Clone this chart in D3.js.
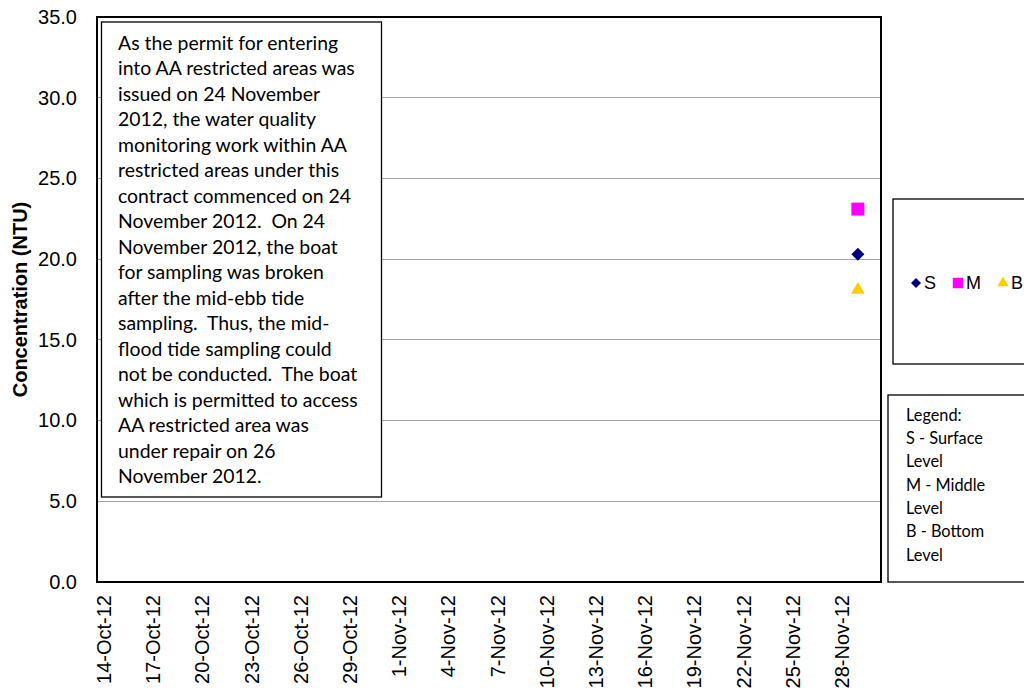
<!DOCTYPE html>
<html>
<head>
<meta charset="utf-8">
<script src="https://cdn.jsdelivr.net/npm/d3@7"></script>
<style>
html,body{margin:0;padding:0;background:#fff;overflow:hidden;}
svg{display:block;}
text{white-space:pre;}
</style>
</head>
<body>
<svg id="chart" width="1024" height="698"></svg>
<script>
// ---------- data ----------
const tickDates = ["14-Oct-12","17-Oct-12","20-Oct-12","23-Oct-12","26-Oct-12","29-Oct-12","1-Nov-12","4-Nov-12","7-Nov-12","10-Nov-12","13-Nov-12","16-Nov-12","19-Nov-12","22-Nov-12","25-Nov-12","28-Nov-12"];
const yTicks = [0,5,10,15,20,25,30,35];
const sampleDates = ["29-Nov-12"];
const surfaceValues = [20.3];
const middleValues = [23.1];
const bottomValues = [18.1];
const seriesNames = ["S","M","B"];
const seriesColors = ["#000080","#FF00FF","#FFCC00"];
const noteLines = [
 "As the permit for entering",
 "into AA restricted areas was",
 "issued on 24 November",
 "2012, the water quality",
 "monitoring work within AA",
 "restricted areas under this",
 "contract commenced on 24",
 "November 2012.  On 24",
 "November 2012, the boat",
 "for sampling was broken",
 "after the mid-ebb tide",
 "sampling.  Thus, the mid-",
 "flood tide sampling could",
 "not be conducted.  The boat",
 "which is permitted to access",
 "AA restricted area was",
 "under repair on 26",
 "November 2012."
];
const legendNoteLines = ["Legend:","S - Surface","Level","M - Middle","Level","B - Bottom","Level"];
const yTitle = "Concentration (NTU)";

// ---------- setup ----------
const parse = d3.timeParse("%d-%b-%y");
const fmt = d3.timeFormat("%-d-%b-%y");
const svg = d3.select("#chart");
const L = 97, R = 881, T = 17, B = 582;
const DAY = 864e5;
const x = d3.scaleTime()
  .domain([new Date(+parse(tickDates[0]) - 0.4*DAY), new Date(+parse(tickDates[tickDates.length-1]) + 2.41*DAY)])
  .range([L, R]);
const y = d3.scaleLinear().domain([0,35]).range([B, T]);

// gridlines
svg.append("g").selectAll("line").data(yTicks.filter(v => v>0 && v<35)).join("line")
  .attr("x1", L).attr("x2", R).attr("y1", d=>y(d)).attr("y2", d=>y(d))
  .attr("stroke", "#a6a6a6").attr("stroke-width", 1).attr("shape-rendering","crispEdges");

// y axis
const yAxis = d3.axisLeft(y).tickValues(yTicks).tickFormat(d3.format(".1f")).tickSize(0).tickPadding(20);
const gy = svg.append("g").attr("transform", `translate(${L},0)`).call(yAxis);
gy.select(".domain").remove();
gy.selectAll("text").attr("font-family","'Liberation Sans', Arial, sans-serif").attr("font-size","20px").attr("fill","#000");

// x axis
const xAxis = d3.axisBottom(x).tickValues(tickDates.map(parse)).tickFormat(fmt).tickSize(0);
const gx = svg.append("g").attr("transform", `translate(0,${B})`).call(xAxis);
gx.select(".domain").remove();
gx.selectAll("text")
  .attr("font-family","'Liberation Sans', Arial, sans-serif").attr("font-size","20px").attr("fill","#000")
  .attr("transform","rotate(-90)")
  .attr("text-anchor","end").attr("x",-13).attr("y",0).attr("dy","0.35em");

// y title
svg.append("text").attr("transform", `translate(20,${(T+B)/2}) rotate(-90)`)
  .attr("text-anchor","middle").attr("dy","0.35em")
  .attr("font-family","'Liberation Sans', Arial, sans-serif").attr("font-size","20px").attr("font-weight","bold")
  .text(yTitle);

// plot border
svg.append("rect").attr("x",L).attr("y",T).attr("width",R-L).attr("height",B-T)
  .attr("fill","none").attr("stroke","#000").attr("stroke-width",2);

// annotation box
const noteBox = {x:101.5, y:22, w:280, h:475};
svg.append("rect").attr("x",noteBox.x).attr("y",noteBox.y).attr("width",noteBox.w).attr("height",noteBox.h)
  .attr("fill","#fff").attr("stroke","#000").attr("stroke-width",1.3);
const noteG = svg.append("g").attr("font-family","Lato, 'Open Sans', sans-serif").attr("fill","#000");
const noteTexts = noteG.selectAll("text").data(noteLines).join("text")
  .attr("x", 118).attr("y",(d,i)=> 43 + i*25.5).attr("dy","0.35em")
  .attr("xml:space","preserve").text(d=>d);
noteTexts.attr("font-size","17px");
{
  const ref = noteTexts.filter((d,i)=>i===1).node().getComputedTextLength();
  const fs = 17 * 237 / ref;
  noteTexts.attr("font-size", fs + "px");
}

// markers: rotated square for diamond
const diamondPath = size => {
  const s = Math.sqrt(size) / 2;
  return `M0,${-s*Math.SQRT2}L${s*Math.SQRT2},0L0,${s*Math.SQRT2}L${-s*Math.SQRT2},0Z`;
};
const markerPath = (si, size) => si === 0 ? diamondPath(size)
  : d3.symbol().type(si === 1 ? d3.symbolSquare : d3.symbolTriangle).size(size)();
const symSizes = [85, 169, 80];
const allSeries = [surfaceValues, middleValues, bottomValues];
allSeries.forEach((vals, si) => {
  svg.append("g").selectAll("path").data(vals).join("path")
    .attr("transform",(d,i)=>`translate(${x(parse(sampleDates[i]))},${y(d)})`)
    .attr("d", markerPath(si, symSizes[si]))
    .attr("fill", seriesColors[si]);
});

// legend box 1
svg.append("rect").attr("x",893).attr("y",199).attr("width",160).attr("height",165)
  .attr("fill","#fff").attr("stroke","#000").attr("stroke-width",1.3);
const legX = [916, 958, 1003];
const legSizes = [50, 110, 55];
seriesNames.forEach((n, i) => {
  svg.append("path").attr("transform",`translate(${legX[i]},283)`)
    .attr("d", markerPath(i, legSizes[i])).attr("fill", seriesColors[i]);
  svg.append("text").attr("x", legX[i]+8).attr("y",283).attr("dy","0.35em")
    .attr("font-family","'Liberation Sans', Arial, sans-serif").attr("font-size","18px").text(n);
});

// legend box 2
svg.append("rect").attr("x",888).attr("y",395).attr("width",160).attr("height",187)
  .attr("fill","#fff").attr("stroke","#000").attr("stroke-width",1.3);
const lt = svg.append("g").attr("font-family","Lato, 'Open Sans', sans-serif").selectAll("text").data(legendNoteLines).join("text")
  .attr("x",906).attr("y",(d,i)=>415 + i*23.3).attr("dy","0.35em").attr("font-size","15px").text(d=>d);
{
  const ref = lt.filter((d,i)=>i===1).node().getComputedTextLength();
  lt.attr("font-size", (15*77/ref) + "px");
}
</script>
</body>
</html>
